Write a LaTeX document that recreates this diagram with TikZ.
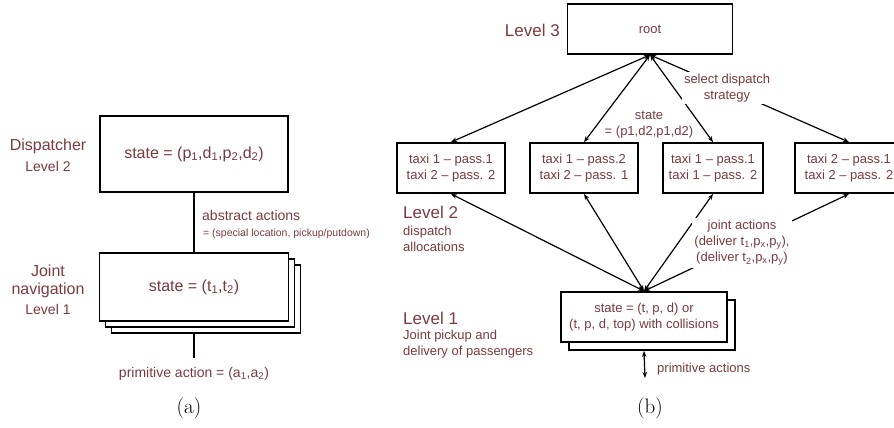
\documentclass[tikz,border=0pt]{standalone}
\usepackage{fontspec}
\usepackage{tikz}
\usetikzlibrary{arrows.meta, positioning}
\newfontfamily\arialf{Liberation Sans}
\definecolor{LabelRed}{HTML}{7A3A3F}
\newcommand{\fslevel}{\arialf\fontsize{17}{20}\selectfont}
\newcommand{\fsbig}{\arialf\fontsize{16}{19}\selectfont}
\newcommand{\fsmid}{\arialf\fontsize{14}{17}\selectfont}
\newcommand{\fsnorm}{\arialf\fontsize{13}{16}\selectfont}
\newcommand{\fstiny}{\arialf\fontsize{10.5}{13}\selectfont}
\tikzset{
    % Node styles
    statebox/.style={
        rectangle,
        draw=black,
        fill=white,
        line width=1.8pt,
        text=LabelRed,
        align=center,
        inner sep=0pt,
        font=\fsnorm
    },
    lbl/.style={
        text=LabelRed,
        align=center,
        inner sep=0pt,
        font=\fsnorm
    },
    caption/.style={
        inner sep=0pt,
        font=\fontsize{21}{24}\selectfont
    },
    % Arrow styles
    myarrow/.style={
        <->,
        >={Stealth[length=6pt,width=4.5pt]},
        line width=1.2pt,
        black
    },
    plainline/.style={
        line width=1.2pt,
        black
    }
}
\begin{document}
\begin{tikzpicture}[x=1pt,y=-1pt]
    \clip (0,0) rectangle (894,428);

    % (a) dispatcher
    \node[statebox,minimum width=188,minimum height=76,font=\fsbig] (disp) at (194,154) {state = (p\textsubscript{1},d\textsubscript{1},p\textsubscript{2},d\textsubscript{2})};
    \node[lbl,font=\fsbig] (dispname) at (48,146) {Dispatcher};
    \node[lbl,font=\fsmid] (displevel) at (48,166) {Level 2};

    % (a) joint navigation, stacked
    \node[statebox,minimum width=189,minimum height=68] (nav3) at (206,299) {};
    \node[statebox,minimum width=189,minimum height=68] (nav2) at (200,293) {};
    \node[statebox,minimum width=189,minimum height=68,font=\fsbig] (nav) at (194,287) {state = (t\textsubscript{1},t\textsubscript{2})};
    \node[lbl,font=\fsbig] (navname) at (48,271) {Joint};
    \node[lbl,font=\fsbig] (navname2) at (48,290) {navigation};
    \node[lbl,font=\fsmid] (navlevel) at (48,309) {Level 1};

    \node[lbl,anchor=west,font=\fsmid] (absact) at (202,215) {abstract actions};
    \node[lbl,anchor=west,font=\fstiny] (absdef) at (203,234) {= (special location, pickup/putdown)};
    \node[lbl,font=\fsmid] (primact) at (194,374) {primitive action = (a\textsubscript{1},a\textsubscript{2})};
    \coordinate (primend) at (194,358);

    \draw[plainline] (disp.south) -- (nav.north);
    \draw[plainline] (nav.south |- nav3.south) -- (primend);

    \node[caption] (capa) at (189,408) {(a)};

    % (b) root
    \node[statebox,minimum width=165,minimum height=50] (root) at (650,29) {root};
    \node[lbl,anchor=east,font=\fslevel] (lvl3) at (560,30) {Level 3};

    % (b) dispatch allocations
    \node[statebox,minimum width=108,minimum height=50] (b1) at (451,168) {taxi 1 – pass.1\\taxi 2 – pass. 2};
    \node[statebox,minimum width=108,minimum height=50] (b2) at (584,168) {taxi 1 – pass.2\\taxi 2 – pass. 1};
    \node[statebox,minimum width=100,minimum height=50] (b3) at (713,168) {taxi 1 – pass.1\\taxi 1 – pass. 2};
    \node[statebox,minimum width=108,minimum height=50] (b4) at (849,168) {taxi 2 – pass.1\\taxi 2 – pass. 2};

    % (b) joint pickup and delivery
    \node[statebox,minimum width=166,minimum height=50] (l1back) at (652,325) {};
    \node[statebox,minimum width=166,minimum height=50] (l1) at (644,317) {state = (t, p, d) or\\(t, p, d, top) with collisions};
    \coordinate (primbend) at (645,378);

    \foreach \b in {b1,b2,b3,b4}
        \draw[myarrow] (root.south) -- (\b.north);
    \foreach \b in {b1,b2,b3,b4}
        \draw[myarrow] (l1.north) -- (\b.south);
    \draw[myarrow] (l1.south |- l1back.south) -- (primbend);

    % (b) labels
    \node[lbl] (statelbl) at (649,125) {state\\= (p1,d2,p1,d2)};
    \node[lbl,fill=white,inner sep=2pt] (selectlbl) at (727,88) {select dispatch\\strategy};
    \node[lbl,fill=white,inner sep=2pt] (jointlbl) at (742,243) {joint actions\\(deliver t\textsubscript{1},p\textsubscript{x},p\textsubscript{y}),\\(deliver t\textsubscript{2},p\textsubscript{x},p\textsubscript{y})};
    \node[lbl,anchor=west,font=\fslevel] (lvl2) at (403,212) {Level 2};
    \node[lbl,anchor=west,align=left] (lvl2txt) at (403,239) {dispatch\\allocations};
    \node[lbl,anchor=west,font=\fslevel] (lvl1) at (403,318) {Level 1};
    \node[lbl,anchor=west,align=left] (lvl1txt) at (403,344) {Joint pickup and\\delivery of passengers};
    \node[lbl,anchor=west] (primlbl) at (657,369) {primitive actions};

    \node[caption] (capb) at (650,408) {(b)};
\end{tikzpicture}
\end{document}
